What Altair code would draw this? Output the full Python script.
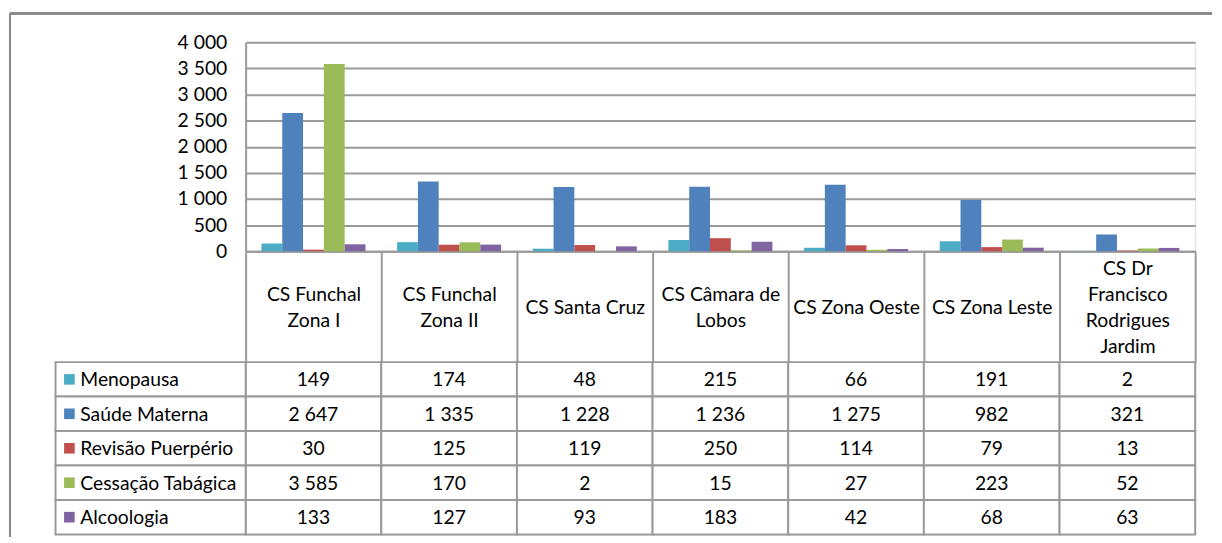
import altair as alt
import pandas as pd

categories = ["CS Funchal\nZona I", "CS Funchal\nZona II", "CS Santa Cruz",
              "CS Câmara de\nLobos", "CS Zona Oeste", "CS Zona Leste",
              "CS Dr\nFrancisco\nRodrigues\nJardim"]
series = ["Menopausa", "Saúde Materna", "Revisão Puerpério", "Cessação Tabágica", "Alcoologia"]
colors = ["#4BACC6", "#4F81BD", "#C0504D", "#9BBB59", "#8064A2"]

menopausa = [149, 174, 48, 215, 66, 191, 2]
saude_materna = [2647, 1335, 1228, 1236, 1275, 982, 321]
revisao_puerperio = [30, 125, 119, 250, 114, 79, 13]
cessacao_tabagica = [3585, 170, 2, 15, 27, 223, 52]
alcoologia = [133, 127, 93, 183, 42, 68, 63]
y_ticks = [0, 500, 1000, 1500, 2000, 2500, 3000, 3500, 4000]

values = [menopausa, saude_materna, revisao_puerperio, cessacao_tabagica, alcoologia]
rows = []
for s, vals in zip(series, values):
    for c, v in zip(categories, vals):
        rows.append({"cat": c, "serie": s, "value": v,
                     "label": f"{v:,}".replace(",", " ")})
df = pd.DataFrame(rows)
legend_df = pd.DataFrame({"serie": series})

FONT = "Lato"
FS = 19.5
GRID = "#9a9a9a"
W, H_BARS, H_TABLE = 959, 211, 174
ZW = "\u200b"  # zero-width filler for blank half-lines

color_scale = alt.Scale(domain=series, range=colors)
x_band = alt.Scale(domain=categories, paddingInner=0, paddingOuter=0)

# vertically centre multi-line header labels: interleave blank half-lines and pad at top
label_expr = (
    "split(replace(pad('', 4 - length(split(datum.label, '\\n')), '_'), regexp('_', 'g'), '" + ZW + "|') + "
    "join(split(datum.label, '\\n'), '|" + ZW + "|'), '|')"
)

bars = alt.Chart(df).mark_bar().encode(
    x=alt.X("cat:N", sort=categories, scale=x_band,
            axis=alt.Axis(title=None, orient="bottom", labelExpr=label_expr,
                          labelFont=FONT, labelFontSize=FS, labelColor="#000",
                          labelLineHeight=13, labelBaseline="middle", labelPadding=-94,
                          labelAngle=0, labelOverlap=False, labelLimit=200,
                          tickBand="extent", tickSize=112, tickColor=GRID, tickWidth=2,
                          domainColor=GRID, domainWidth=2, grid=False)),
    xOffset=alt.XOffset("serie:N", sort=series,
                        scale=alt.Scale(domain=series, paddingInner=0, paddingOuter=0.76)),
    y=alt.Y("value:Q", scale=alt.Scale(domain=[0, 4000], nice=False),
            axis=alt.Axis(title=None, values=y_ticks,
                          labelExpr="replace(format(datum.value, ','), ',', ' ')",
                          labelFont=FONT, labelFontSize=FS, labelColor="#000", labelPadding=19,
                          ticks=False, domainColor=GRID, domainWidth=2,
                          grid=True, gridColor=GRID, gridWidth=2)),
    color=alt.Color("serie:N", scale=color_scale, legend=None),
)

frame_top = alt.Chart(legend_df).mark_rule(color="#8a8a8a", strokeWidth=2).encode(
    x=alt.value(-238), x2=alt.value(976), y=alt.value(-29))
frame_left = alt.Chart(legend_df).mark_rule(color="#8a8a8a", strokeWidth=2).encode(
    x=alt.value(-238), y=alt.value(-29), y2=alt.value(499))

top = alt.layer(bars, frame_top, frame_left).properties(width=W, height=H_BARS)

y_rows = alt.Y("serie:N", sort=series, scale=alt.Scale(domain=series, paddingInner=0, paddingOuter=0),
               axis=None)
x_cols = alt.X("cat:N", sort=categories, scale=x_band, axis=None)

cells = alt.Chart(df).mark_rect(fill="white", stroke=GRID, strokeWidth=2).encode(x=x_cols, y=y_rows)
cell_text = alt.Chart(df).mark_text(font=FONT, fontSize=FS, color="#000", baseline="middle", dy=1).encode(
    x=x_cols, y=y_rows, text="label:N")

leg_cells = alt.Chart(legend_df).mark_rect(fill="white", stroke=GRID, strokeWidth=2).encode(
    x=alt.value(-192), x2=alt.value(0), y=y_rows)
leg_swatch = alt.Chart(legend_df).mark_square(size=115, opacity=1).encode(
    x=alt.value(-178), y=y_rows, color=alt.Color("serie:N", scale=color_scale, legend=None))
leg_text = alt.Chart(legend_df).mark_text(font=FONT, fontSize=FS, color="#000", align="left",
                                          baseline="middle", dy=1).encode(
    x=alt.value(-167), y=y_rows, text="serie:N")

table = alt.layer(cells, cell_text, leg_cells, leg_swatch, leg_text).properties(width=W, height=H_TABLE)

chart = alt.vconcat(top, table, spacing=112, bounds="flush").properties(
    padding={"left": 0, "top": 1, "right": 0, "bottom": 0}
).configure_view(stroke=None).configure(font=FONT)

chart.save("out.html", embed_options={"renderer": "svg", "actions": False})
